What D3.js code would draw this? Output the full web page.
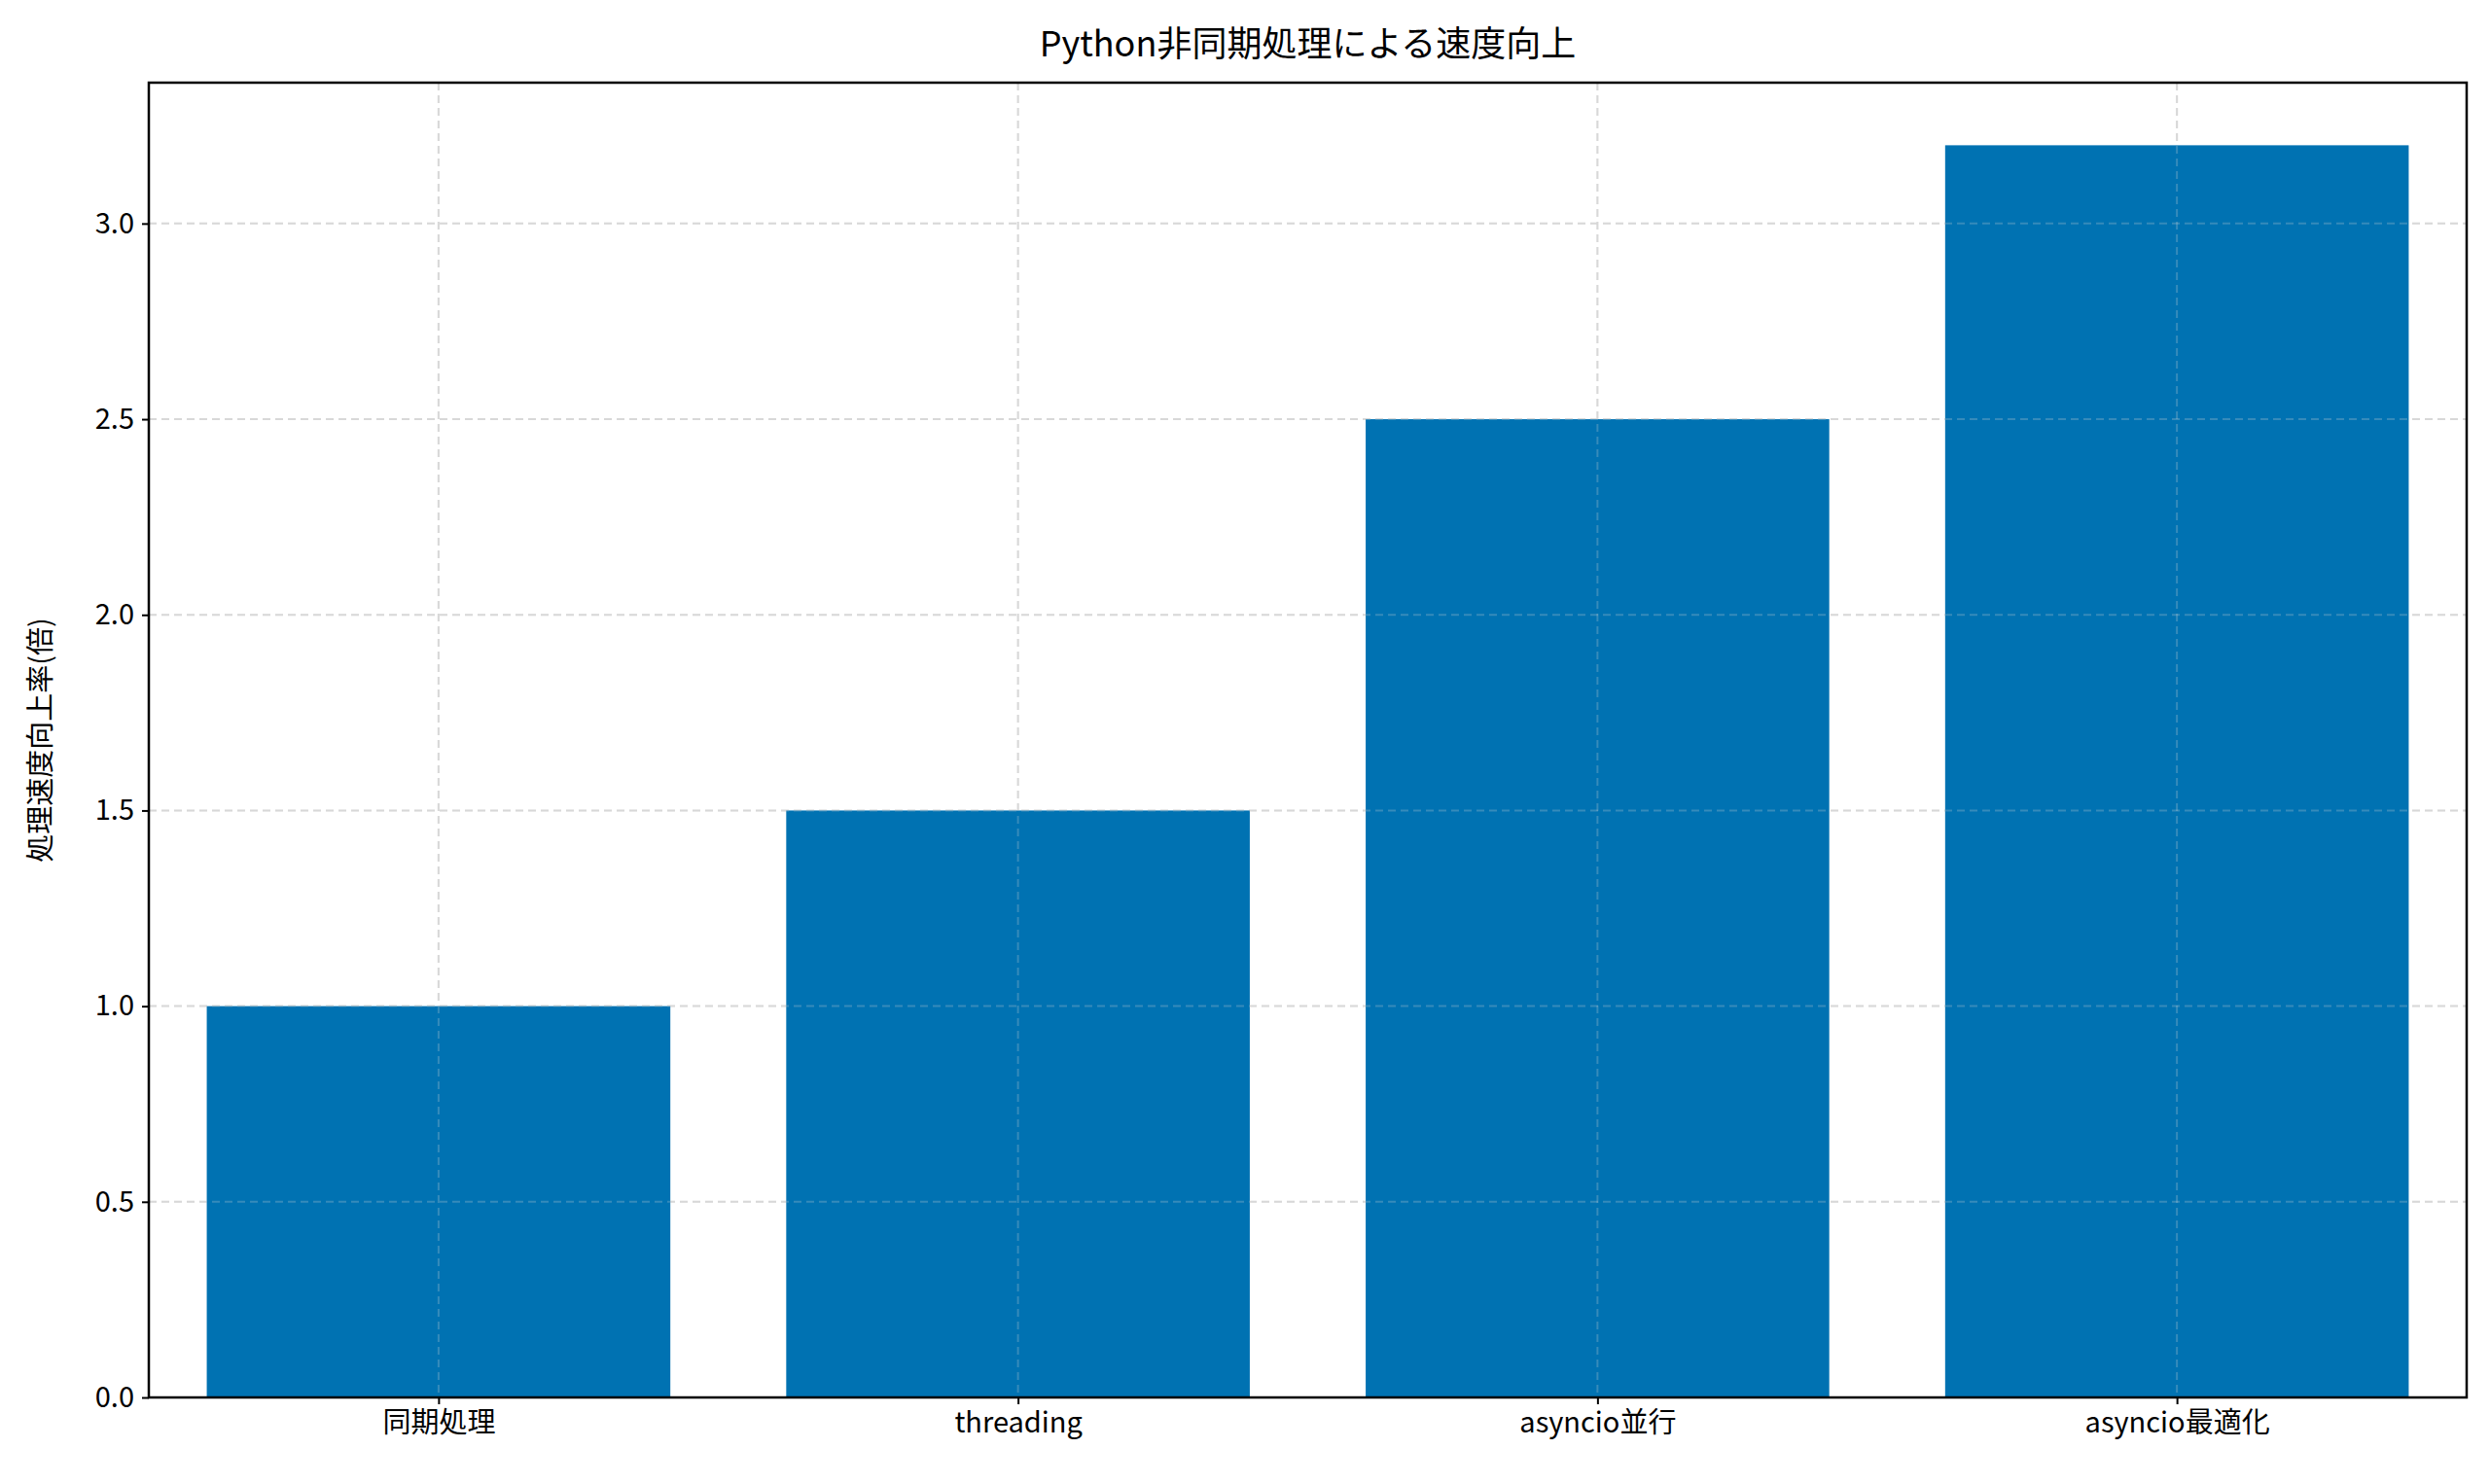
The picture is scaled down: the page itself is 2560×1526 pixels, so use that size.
<!DOCTYPE html>
<html><head><meta charset="utf-8">
<script src="https://cdn.jsdelivr.net/npm/d3@7"></script>
<style>body{margin:0;background:#fff}text{font-family:"Noto Sans CJK JP","Noto Sans",sans-serif}</style>
</head><body><svg id="chart" width="2560" height="1526"></svg>
<script>
const categories = ["同期処理", "threading", "asyncio並行", "asyncio最適化"];
const speedups = [1.0, 1.5, 2.5, 3.2];
const yTicks = [0, 0.5, 1.0, 1.5, 2.0, 2.5, 3.0];

const m = { left: 153, right: 24, top: 85, bottom: 89 };
const W = 2560, H = 1526;
const svg = d3.select("#chart");
const iw = W - m.left - m.right, ih = H - m.top - m.bottom;
const g = svg.append("g").attr("transform", `translate(${m.left},${m.top})`);

const x = d3.scaleLinear().domain([-0.5, categories.length - 0.5]).range([0, iw]);
const y = d3.scaleLinear().domain([0, 3.36]).range([ih, 0]);

// grid
g.selectAll(".gy").data(yTicks).enter().append("line")
  .attr("x1", 0).attr("x2", iw).attr("y1", d => y(d)).attr("y2", d => y(d))
  .attr("stroke", "#d9d9d9").attr("stroke-width", 2).attr("stroke-dasharray", "8,5");
g.selectAll(".gx").data(categories).enter().append("line")
  .attr("x1", (d, i) => x(i)).attr("x2", (d, i) => x(i)).attr("y1", 0).attr("y2", ih)
  .attr("stroke", "#d9d9d9").attr("stroke-width", 2).attr("stroke-dasharray", "8,5");

g.selectAll(".bar").data(speedups).enter().append("rect")
  .attr("x", (d, i) => x(i - 0.4)).attr("width", x(0.4) - x(-0.4))
  .attr("y", d => y(d)).attr("height", d => ih - y(d))
  .attr("fill", "#0072B2");

// grid lines over bars (matplotlib draws them faintly on top)
g.selectAll(".gx2").data(categories).enter().append("line")
  .attr("x1", (d, i) => x(i)).attr("x2", (d, i) => x(i)).attr("y1", 0).attr("y2", ih)
  .attr("stroke", "#d9d9d9").attr("stroke-opacity", 0.25).attr("stroke-width", 2).attr("stroke-dasharray", "8,5");
g.selectAll(".gy2").data(yTicks).enter().append("line")
  .attr("x1", 0).attr("x2", iw).attr("y1", d => y(d)).attr("y2", d => y(d))
  .attr("stroke", "#d9d9d9").attr("stroke-opacity", 0.25).attr("stroke-width", 2).attr("stroke-dasharray", "8,5");

const ya = g.append("g").call(d3.axisLeft(y).tickValues(yTicks).tickFormat(d3.format(".1f")).tickSize(7).tickPadding(8));
const xa = g.append("g").attr("transform", `translate(0,${ih})`)
  .call(d3.axisBottom(x).tickValues(d3.range(categories.length)).tickFormat(i => categories[i]).tickSize(7).tickPadding(8));
[ya, xa].forEach(a => {
  a.select(".domain").remove();
  a.selectAll("line").attr("stroke", "#000").attr("stroke-width", 2);
  a.selectAll("text").attr("font-size", 29).attr("fill", "#000");
});

g.append("rect").attr("width", iw).attr("height", ih).attr("fill", "none").attr("stroke", "#000").attr("stroke-width", 2.5);

svg.append("text").attr("x", m.left + iw / 2).attr("y", 58).attr("text-anchor", "middle")
  .attr("font-size", 36).text("Python非同期処理による速度向上");
svg.append("text").attr("transform", `translate(52,${m.top + ih / 2}) rotate(-90)`)
  .attr("text-anchor", "middle").attr("font-size", 29).text("処理速度向上率(倍)");
</script></body></html>
